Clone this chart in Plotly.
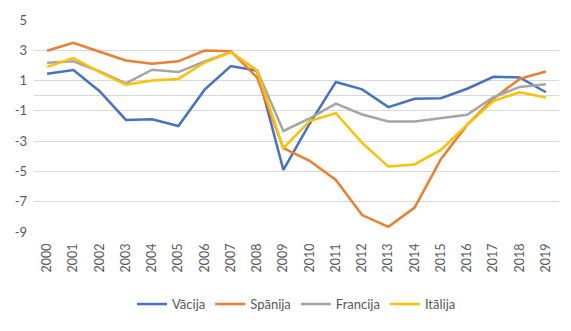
import plotly.graph_objects as go

years = [str(y) for y in range(2000, 2020)]
vacija = [1.45, 1.70, 0.30, -1.60, -1.55, -2.0, 0.40, 1.96, 1.65, -4.90, -1.85, 0.91, 0.42, -0.75, -0.20, -0.16, 0.46, 1.25, 1.21, 0.23]
spanija = [2.97, 3.50, 2.90, 2.33, 2.11, 2.27, 2.98, 2.94, 1.20, -3.46, -4.30, -5.56, -7.88, -8.66, -7.39, -4.19, -1.93, -0.20, 1.11, 1.60]
francija = [2.17, 2.27, 1.60, 0.82, 1.72, 1.56, 2.26, 2.88, 1.66, -2.33, -1.50, -0.52, -1.24, -1.70, -1.70, -1.46, -1.26, -0.10, 0.58, 0.76]
italija = [1.90, 2.49, 1.56, 0.72, 1.01, 1.11, 2.19, 2.88, 1.65, -3.46, -1.68, -1.15, -3.11, -4.68, -4.54, -3.58, -1.93, -0.36, 0.23, -0.12]

names = ["Vācija", "Spānija", "Francija", "Itālija"]
series = [vacija, spanija, francija, italija]
colors = ["#4472C4", "#ED7D31", "#A5A5A5", "#FFC000"]

ytick_vals = [5, 3, 1, -1, -3, -5, -7, -9]
ytick_text = ["5", "3", "1", "-1", "-3", "-5", "-7", "-9"]

fig = go.Figure()
for n, s, c in zip(names, series, colors):
    fig.add_trace(go.Scatter(x=years, y=s, name=n, mode="lines",
                             line=dict(color=c, width=2.5)))

font_family = "Lato, Carlito, 'Liberation Sans', sans-serif"
fig.update_layout(
    width=571, height=331,
    margin=dict(l=34, r=12, t=12, b=81),
    plot_bgcolor="white", paper_bgcolor="white",
    font=dict(family=font_family, size=13, color="#595959"),
    showlegend=True,
    legend=dict(orientation="h", x=0.5, xanchor="center", y=-0.34, yanchor="middle",
                font=dict(size=13, color="#595959"), itemwidth=30,
                tracegroupgap=0),
)
fig.update_xaxes(type="category", range=[-0.5, 19.5], tickangle=-90, showgrid=False,
                 showline=False, ticks="", tickfont=dict(size=12.5, color="#595959"),
                 ticklabelstandoff=8)
fig.update_yaxes(range=[-9, 5], tickmode="array", tickvals=ytick_vals, ticktext=ytick_text,
                 showgrid=True, gridcolor="#D9D9D9", gridwidth=1,
                 zeroline=True, zerolinecolor="#D9D9D9", zerolinewidth=1,
                 showline=False, ticks="", tickfont=dict(size=13, color="#595959"),
                 ticklabelstandoff=6)

fig.write_html("out.html")
